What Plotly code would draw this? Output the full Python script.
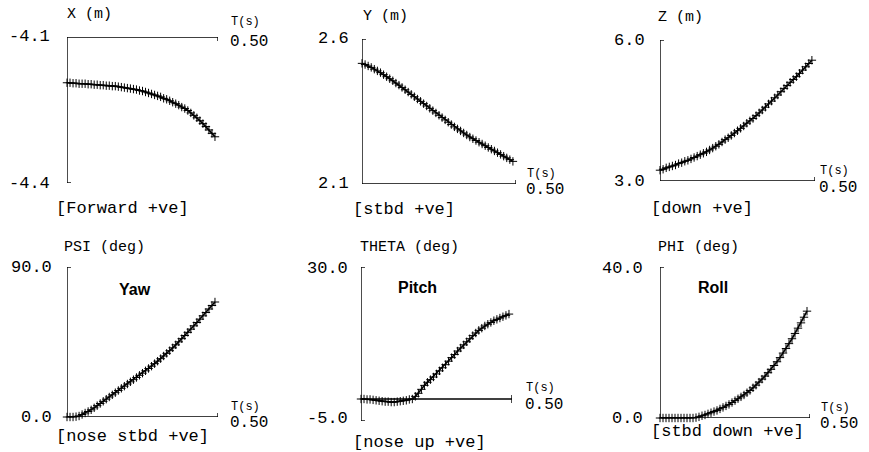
import plotly.graph_objects as go

W, H = 869, 452

# ---------------- data ----------------
T = [0.00, 0.01, 0.02, 0.03, 0.04, 0.05, 0.06, 0.07, 0.08, 0.09,
     0.10, 0.11, 0.12, 0.13, 0.14, 0.15, 0.16, 0.17, 0.18, 0.19,
     0.20, 0.21, 0.22, 0.23, 0.24, 0.25, 0.26, 0.27, 0.28, 0.29,
     0.30, 0.31, 0.32, 0.33, 0.34, 0.35, 0.36, 0.37, 0.38, 0.39,
     0.40, 0.41, 0.42, 0.43, 0.44, 0.45, 0.46, 0.47, 0.48, 0.49]

X_m = [-4.194, -4.194, -4.195, -4.195, -4.196, -4.196, -4.196, -4.197, -4.197, -4.198,
       -4.198, -4.199, -4.199, -4.200, -4.200, -4.201, -4.201, -4.202, -4.203, -4.204,
       -4.205, -4.206, -4.207, -4.208, -4.210, -4.211, -4.213, -4.215, -4.217, -4.219,
       -4.221, -4.223, -4.226, -4.228, -4.231, -4.234, -4.237, -4.240, -4.244, -4.247,
       -4.251, -4.256, -4.261, -4.266, -4.272, -4.278, -4.284, -4.291, -4.298, -4.305]

Y_m = [2.516, 2.512, 2.507, 2.502, 2.496, 2.490, 2.484, 2.477, 2.470, 2.463,
       2.456, 2.448, 2.441, 2.433, 2.425, 2.417, 2.409, 2.401, 2.393, 2.385,
       2.377, 2.369, 2.361, 2.353, 2.345, 2.337, 2.329, 2.321, 2.313, 2.305,
       2.297, 2.290, 2.283, 2.276, 2.269, 2.262, 2.256, 2.250, 2.244, 2.238,
       2.232, 2.226, 2.220, 2.214, 2.208, 2.202, 2.196, 2.190, 2.184, 2.178]

Z_m = [3.23, 3.25, 3.28, 3.30, 3.32, 3.34, 3.37, 3.39, 3.42, 3.44,
       3.47, 3.50, 3.53, 3.56, 3.59, 3.62, 3.66, 3.70, 3.74, 3.78,
       3.83, 3.88, 3.92, 3.97, 4.02, 4.07, 4.12, 4.17, 4.23, 4.28,
       4.33, 4.39, 4.45, 4.51, 4.57, 4.64, 4.70, 4.77, 4.83, 4.90,
       4.97, 5.03, 5.10, 5.16, 5.22, 5.29, 5.36, 5.43, 5.50, 5.57]

PSI_deg = [0.0, 0.0, 0.0, 0.2, 0.6, 1.5, 2.4, 3.3, 4.3, 5.5,
           6.8, 8.1, 9.4, 10.7, 12.0, 13.3, 14.6, 15.9, 17.2, 18.5,
           19.8, 21.1, 22.4, 23.7, 25.0, 26.3, 27.7, 29.1, 30.5, 32.0,
           33.5, 35.0, 36.6, 38.2, 39.8, 41.5, 43.3, 45.1, 47.0, 48.9,
           50.8, 52.7, 54.7, 56.7, 58.7, 60.7, 62.7, 64.8, 66.9, 69.0]

THETA_deg = [0.0, 0.0, -0.1, -0.1, -0.2, -0.3, -0.4, -0.5, -0.6, -0.6,
             -0.7, -0.7, -0.6, -0.5, -0.4, -0.3, -0.1, 0.0, 0.6, 1.3,
             2.2, 3.1, 3.8, 4.4, 5.0, 5.7, 6.4, 7.1, 7.8, 8.6,
             9.4, 10.1, 10.9, 11.6, 12.3, 13.0, 13.7, 14.4, 15.0, 15.6,
             16.1, 16.6, 17.0, 17.4, 17.8, 18.1, 18.4, 18.7, 19.0, 19.3]

PHI_deg = [0.0, 0.0, 0.0, 0.0, 0.0, 0.0, 0.0, 0.0, 0.0, 0.0,
           0.0, 0.0, 0.1, 0.3, 0.6, 0.8, 1.1, 1.4, 1.7, 2.0,
           2.4, 2.8, 3.2, 3.6, 4.1, 4.6, 5.1, 5.6, 6.1, 6.7,
           7.3, 8.0, 8.7, 9.5, 10.3, 11.1, 12.0, 12.9, 13.9, 14.9,
           16.0, 17.2, 18.4, 19.7, 21.0, 22.4, 23.8, 25.2, 26.7, 28.3]

titles = ["X (m)", "Y (m)", "Z (m)", "PSI (deg)", "THETA (deg)", "PHI (deg)"]
sign_labels = ["[Forward +ve]", "[stbd +ve]", "[down +ve]",
               "[nose stbd +ve]", "[nose up +ve]", "[stbd down +ve]"]
y_top_labels = ["-4.1", "2.6", "6.0", "90.0", "30.0", "40.0"]
y_bot_labels = ["-4.4", "2.1", "3.0", "0.0", "-5.0", "0.0"]
y_top_vals = [-4.1, 2.6, 6.0, 90.0, 30.0, 40.0]
y_bot_vals = [-4.4, 2.1, 3.0, 0.0, -5.0, 0.0]
t_end_label = "0.50"
t_axis_label = "T(s)"
names = ["Yaw", "Pitch", "Roll"]
series = [X_m, Y_m, Z_m, PSI_deg, THETA_deg, PHI_deg]

# ---------------- layout geometry (pixels) ----------------
panels = [
    dict(x0=67, x1=218, yt=37, yb=183, axis_at=-4.1, bot_tick=True, top_tick=False),
    dict(x0=362, x1=516, yt=39, yb=184, axis_at=2.1, bot_tick=False, top_tick=True),
    dict(x0=660, x1=815, yt=40, yb=181, axis_at=3.0, bot_tick=False, top_tick=True),
    dict(x0=67, x1=218, yt=267, yb=417, axis_at=0.0, bot_tick=False, top_tick=True),
    dict(x0=361, x1=512, yt=267, yb=421, axis_at=0.0, bot_tick=True, top_tick=True),
    dict(x0=660, x1=810, yt=267, yb=418, axis_at=0.0, bot_tick=False, top_tick=True),
]
lab = [
    dict(title=(66, 15), ytl=(51, 37), ybl=(51, 183), tx=229, sign=(55, 208)),
    dict(title=(362, 16), ytl=(350, 39), ybl=(350, 184), tx=525, sign=(352, 210)),
    dict(title=(657, 17), ytl=(646, 40), ybl=(646, 181), tx=818, sign=(650, 208)),
    dict(title=(63, 247), ytl=(53, 267), ybl=(53, 417), tx=229, sign=(55, 436)),
    dict(title=(359, 247), ytl=(349, 268), ybl=(349, 418), tx=524, sign=(352, 442)),
    dict(title=(657, 247), ytl=(644, 268), ybl=(644, 418), tx=819, sign=(650, 431)),
]
t_axis_py = [37, 184, 181, 417, 399, 418]
ts_dy = [-15, -10, -10, -10, -11, -10]
te_dy = [5, 6, 7, 6, 6, 6]
name_pos = [(135, 289), (417, 287), (713, 287)]

MONO = "Liberation Mono"
fig = go.Figure()
shapes = []
annotations = []


def px(x):
    return x / W


def py(y):
    return 1 - y / H


def ann(text, pos, xanchor, size, family=MONO):
    annotations.append(dict(
        text=text, x=px(pos[0]), y=py(pos[1]),
        xref="paper", yref="paper", xanchor=xanchor, yanchor="middle", showarrow=False,
        borderpad=0, font=dict(family=family, size=size, color="black")))


for i, (p, vals) in enumerate(zip(panels, series)):
    k = "" if i == 0 else str(i + 1)
    ax_x = "x" + k
    ax_y = "y" + k
    ymin, ymax = y_bot_vals[i], y_top_vals[i]
    fig.add_trace(go.Scatter(
        x=T, y=vals, mode="lines+markers",
        line=dict(color="black", width=1.6),
        marker=dict(symbol="cross-thin", size=6, line=dict(color="black", width=1)),
        cliponaxis=False, showlegend=False, xaxis=ax_x, yaxis=ax_y, hoverinfo="skip"))
    fig.update_layout(**{
        "xaxis" + k: dict(domain=[px(p["x0"]), px(p["x1"])], range=[0, 0.5], visible=False,
                          anchor=ax_y, fixedrange=True),
        "yaxis" + k: dict(domain=[py(p["yb"]), py(p["yt"])], range=[ymin, ymax], visible=False,
                          anchor=ax_x, fixedrange=True),
    })
    dx = 0.5 / (p["x1"] - p["x0"])
    dy = (ymax - ymin) / (p["yb"] - p["yt"])
    ln = dict(color="black", width=1.4)
    shapes.append(dict(type="line", xref=ax_x, yref=ax_y, x0=0, x1=0, y0=ymin, y1=ymax, line=ln))
    if p["top_tick"]:
        shapes.append(dict(type="line", xref=ax_x, yref=ax_y, x0=0, x1=4 * dx, y0=ymax, y1=ymax, line=ln))
    if p["bot_tick"]:
        shapes.append(dict(type="line", xref=ax_x, yref=ax_y, x0=0, x1=4 * dx, y0=ymin, y1=ymin, line=ln))
    a = p["axis_at"]
    shapes.append(dict(type="line", xref=ax_x, yref=ax_y, x0=0, x1=0.5, y0=a, y1=a, line=ln))
    shapes.append(dict(type="line", xref=ax_x, yref=ax_y, x0=0.5, x1=0.5,
                       y0=a - 4 * dy, y1=a + 4 * dy, line=ln))

    L = lab[i]
    ann(titles[i], L["title"], "left", 15)
    ann(y_top_labels[i], L["ytl"], "right", 17)
    ann(y_bot_labels[i], L["ybl"], "right", 17)
    ann(t_axis_label, (L["tx"] + 1, t_axis_py[i] + ts_dy[i]), "left", 12)
    ann(t_end_label, (L["tx"], t_axis_py[i] + te_dy[i]), "left", 16)
    ann(sign_labels[i], L["sign"], "left", 17)

for nm, pos in zip(names, name_pos):
    annotations.append(dict(
        text="<b>%s</b>" % nm, x=px(pos[0]), y=py(pos[1]), xref="paper", yref="paper",
        xanchor="center", yanchor="middle", showarrow=False,
        font=dict(family="Liberation Sans", size=16, color="black")))

fig.update_layout(
    width=W, height=H, margin=dict(l=0, r=0, t=0, b=0),
    paper_bgcolor="white", plot_bgcolor="white",
    shapes=shapes, annotations=annotations, showlegend=False)

fig.write_html("out.html", config=dict(displayModeBar=False))
